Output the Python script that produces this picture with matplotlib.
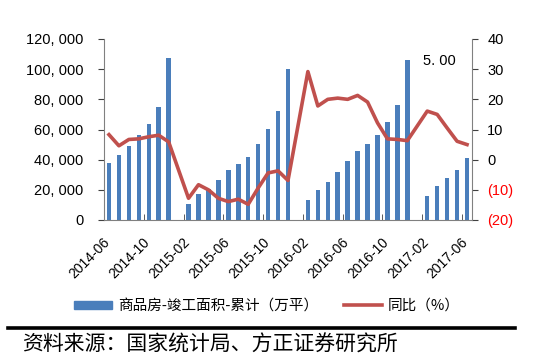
import numpy as np
import pandas as pd
import matplotlib
matplotlib.use('Agg')
import matplotlib.pyplot as plt
from matplotlib.lines import Line2D
from matplotlib.patches import Patch
from matplotlib.transforms import ScaledTranslation

plt.rcParams['font.family'] = ['Noto Sans CJK SC', 'DejaVu Sans']

# monthly categories, 2014-06 .. 2017-06
months = [p.strftime('%Y-%m') for p in pd.period_range('2014-06', '2017-06', freq='M')]

# cumulative completed floor area (10k m2); January not published
area = [38000, 43100, 49300, 56100, 63400, 74700, 107200,
        None, 10800, 17000, 20800, 26500, 32900, 37300, 42000, 50400, 60600, 72500, 99900,
        None, 13300, 19900, 25400, 31600, 39100, 45700, 50400, 56600, 65200, 76200, 106100,
        None, 15900, 22800, 27800, 33400, 41300]

# year-on-year growth (%)
yoy = [8.3, 4.6, 6.7, 6.9, 7.6, 8.1, 5.9,
       None, -12.8, -8.3, -10.0, -12.8, -13.9, -13.1, -14.8, -9.4, -4.4, -3.7, -6.9,
       None, 29.2, 17.8, 20.0, 20.4, 20.0, 21.3, 19.1, 12.2, 6.9, 6.7, 6.3,
       None, 16.1, 15.0, 10.5, 6.1, 5.0]

tick_labels = ['2014-06', '2014-10', '2015-02', '2015-06', '2015-10',
               '2016-02', '2016-06', '2016-10', '2017-02', '2017-06']

bar_color = '#4A7EBB'
line_color = '#C0504D'
num_font = ['Liberation Sans', 'DejaVu Sans']

fig = plt.figure(figsize=(5.38, 3.61), dpi=100)
ax = fig.add_axes([104/538, 1 - 220/361, 368/538, 181/361])
ax2 = ax.twinx()

x = np.arange(len(months))
bar_vals = np.array([np.nan if v is None else v for v in area], dtype=float)
ax.bar(x, np.nan_to_num(bar_vals), width=0.45, color=bar_color, zorder=2)

yv = np.array([np.nan if v is None else v for v in yoy], dtype=float)
ok = ~np.isnan(yv)
ax2.plot(x[ok], yv[ok], color=line_color, lw=2.6, solid_joinstyle='round', zorder=3)

# left axis
ax.set_xlim(-0.5, len(months) - 0.5)
ax.set_ylim(0, 120000)
ax.set_yticks(np.arange(0, 120001, 20000))
ax.set_yticklabels(['0' if v == 0 else f'{v // 1000}, 000' for v in range(0, 120001, 20000)],
                   fontsize=10.5, family=num_font)

# right axis
ax2.set_ylim(-20, 40)
rticks = np.arange(-20, 41, 10)
ax2.set_yticks(rticks)
ax2.set_yticklabels([f'({-v})' if v < 0 else str(v) for v in rticks], fontsize=10.5,
                    family=num_font)
for lab, v in zip(ax2.get_yticklabels(), rticks):
    if v < 0:
        lab.set_color('#FF0000')

# x ticks: labels on categories, tick marks on boundaries
pos = [months.index(t) for t in tick_labels]
ax.set_xticks(pos)
ax.set_xticklabels(tick_labels, rotation=45, ha='right', rotation_mode='anchor',
                   fontsize=10, family=num_font)
ax.tick_params(axis='x', length=0, pad=11)
ax.set_xticks([p - 0.5 for p in pos], minor=True)
ax.tick_params(axis='x', which='minor', direction='in', length=4, color='#404040')
ax.tick_params(axis='y', length=4, color='#404040', pad=11)
ax2.tick_params(axis='y', length=4, color='#404040', pad=7)

for a in (ax, ax2):
    a.spines['top'].set_visible(False)
    for s in ('left', 'right', 'bottom'):
        a.spines[s].set_color('#808080')
ax.spines['right'].set_visible(False)
ax2.spines['left'].set_visible(False)
ax2.spines['bottom'].set_visible(False)

# nudge the rotated date labels a little to the left
shift = ScaledTranslation(-6/100, 0, fig.dpi_scale_trans)
for lab in ax.get_xticklabels():
    lab.set_transform(lab.get_transform() + shift)

# last-value label
ax2.text(33.2, 32.7, '5. 00', fontsize=10.5, family=num_font, ha='center', va='center')

# legend
handles = [Patch(color=bar_color), Line2D([], [], color=line_color, lw=2.6)]
fig.legend(handles, ['商品房-竣工面积-累计（万平）', '同比（%）'], loc='center',
           bbox_to_anchor=(0.496, 1 - 306/361), ncol=2, frameon=False, fontsize=10.5,
           handlelength=2.6, handleheight=0.45, columnspacing=1.8, handletextpad=0.4)

# source line
fig.add_artist(Line2D([8/538, 515/538], [1 - 328/361, 1 - 328/361], color='black', lw=2.6))
fig.text(22/538, 1 - 345/361, '资料来源：国家统计局、方正证券研究所', fontsize=15,
         style='italic', va='center', ha='left')

fig.savefig('out.png', dpi=100)
